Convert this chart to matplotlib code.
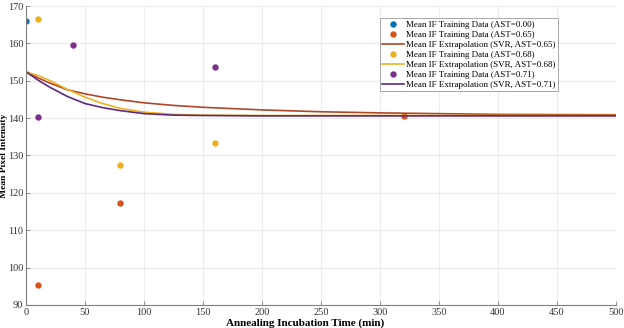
import numpy as np
import matplotlib
matplotlib.use("Agg")
import matplotlib.pyplot as plt

plt.rcParams['font.family'] = ['Liberation Serif', 'DejaVu Serif']

# training data (time in min, mean pixel intensity)
t_000 = [0]
y_000 = [166.0]
t_065 = [10, 80, 320]
y_065 = [95.4, 117.4, 140.7]
t_068 = [10, 80, 160]
y_068 = [166.5, 127.5, 133.3]
t_071 = [10, 40, 160]
y_071 = [140.3, 159.6, 153.6]

# SVR extrapolation curves
t_fit = [0, 10, 20, 35, 50, 65, 80, 100, 125, 150, 200, 250, 300, 350, 400, 450, 500]
fit_065 = [152.4, 150.8, 149.4, 147.6, 146.5, 145.6, 144.9, 144.1, 143.4, 142.9,
           142.2, 141.7, 141.4, 141.2, 141.0, 140.95, 140.9]
fit_068 = [152.4, 151.4, 150.1, 147.7, 145.6, 143.9, 142.6, 141.6, 141.0, 140.8,
           140.7, 140.7, 140.7, 140.7, 140.7, 140.7, 140.7]
fit_071 = [152.4, 150.2, 148.3, 145.8, 143.9, 142.8, 142.0, 141.2, 140.8, 140.7,
           140.6, 140.6, 140.6, 140.6, 140.6, 140.6, 140.6]

blue = '#0072BD'
orange = '#D95319'
orange_line = '#B0462A'
yellow = '#EDB120'
purple = '#7E2F8E'
purple_line = '#5E2A80'

fig = plt.figure(figsize=(6.24, 3.28), dpi=100)
ax = fig.add_axes([26 / 624, 1 - 305 / 328, 590 / 624, 299 / 328])

ms = 4.6
lw = 1.2
ax.plot(t_000, y_000, 'o', color=blue, ms=ms, mec='none', label='Mean IF Training Data (AST=0.00)')
ax.plot(t_065, y_065, 'o', color=orange, ms=ms, mec='none', label='Mean IF Training Data (AST=0.65)')
ax.plot(t_fit, fit_065, '-', color=orange_line, lw=lw, label='Mean IF Extrapolation (SVR, AST=0.65)')
ax.plot(t_068, y_068, 'o', color=yellow, ms=ms, mec='none', label='Mean IF Training Data (AST=0.68)')
ax.plot(t_fit, fit_068, '-', color=yellow, lw=lw, label='Mean IF Extrapolation (SVR, AST=0.68)')
ax.plot(t_071, y_071, 'o', color=purple, ms=ms, mec='none', label='Mean IF Training Data (AST=0.71)')
ax.plot(t_fit, fit_071, '-', color=purple_line, lw=lw, label='Mean IF Extrapolation (SVR, AST=0.71)')

ax.set_xlim(0, 500)
ax.set_ylim(90, 170)
ax.set_xticks(np.arange(0, 501, 50))
ax.set_yticks(np.arange(90, 171, 10))
ax.grid(True, color='#ececec', lw=0.8)
ax.set_axisbelow(True)
for s in ['top', 'right']:
    ax.spines[s].set_visible(False)
for s in ['left', 'bottom']:
    ax.spines[s].set_color('#808080')
    ax.spines[s].set_linewidth(0.8)
ax.tick_params(direction='in', length=3, width=0.6, color='#808080',
               labelsize=7.5, labelcolor='#333333', pad=2)

ax.set_xlabel('Annealing Incubation Time (min)', fontsize=8, fontweight='bold')
ax.xaxis.set_label_coords((305 - 26) / 590, -0.045)
ax.xaxis.label.set_va('top')
ax.set_ylabel('Mean Pixel Intensity', fontsize=6.8, fontweight='bold')
ax.yaxis.set_label_coords(-(26 - 8) / 590, 0.5)

leg = ax.legend(loc='upper right', bbox_to_anchor=((558 - 26) / 590, (305 - 18) / 299),
                fontsize=6.5, frameon=True, fancybox=False, framealpha=1,
                edgecolor='#999999', handlelength=2.4, handletextpad=0.2,
                labelspacing=0.18, borderpad=0.3, borderaxespad=0)
leg.get_frame().set_linewidth(0.6)

fig.savefig('out.png', dpi=100)
